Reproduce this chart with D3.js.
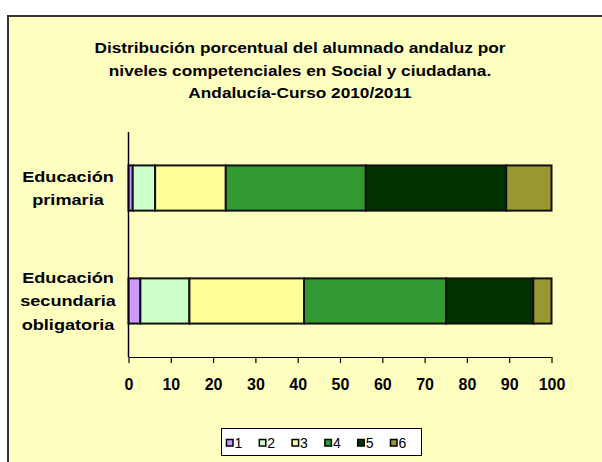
<!DOCTYPE html>
<html>
<head>
<meta charset="utf-8">
<script src="https://cdn.jsdelivr.net/npm/d3@7"></script>
<style>
  html, body { margin: 0; padding: 0; background: #ffffff; }
  svg { display: block; }
  text { font-family: Arial, "Liberation Sans", sans-serif; }
</style>
</head>
<body>
<svg id="chart" width="602" height="462"></svg>
<script>
// Percentage of students per competence level (1..6), by stage
const categories = ["Educación primaria", "Educación secundaria obligatoria"];
const categoryLines = [["Educación", "primaria"], ["Educación", "secundaria", "obligatoria"]];
const levels = ["1", "2", "3", "4", "5", "6"];
const primaria = [1.0, 5.3, 16.7, 33.1, 33.2, 10.7];
const secundaria = [2.8, 11.6, 27.1, 33.6, 20.6, 4.3];
const xTicks = [0, 10, 20, 30, 40, 50, 60, 70, 80, 90, 100];
const titleLines = [
  "Distribución porcentual del alumnado andaluz por",
  "niveles competenciales en Social y ciudadana.",
  "Andalucía-Curso 2010/2011"
];
const colors = ["#CC99FF", "#CCFFCC", "#FFFF99", "#339933", "#003300", "#999933"];

const seriesByCategory = [primaria, secundaria];

const svg = d3.select("#chart");

// Chart area frame
svg.append("rect")
  .attr("x", 8).attr("y", 16)
  .attr("width", 640).attr("height", 500)
  .attr("fill", "#FFFFC0")
  .attr("stroke", "#333333")
  .attr("stroke-width", 2);

// Title (slightly widened glyphs, like the classic office chart rendering)
const titleG = svg.append("g").attr("transform", "translate(300,0) scale(1.15,1)");
titleG.selectAll("text")
  .data(titleLines)
  .join("text")
  .attr("x", 0)
  .attr("y", (d, i) => 53.5 + i * 22.5)
  .attr("text-anchor", "middle")
  .attr("font-size", "15px")
  .attr("font-weight", "bold")
  .attr("fill", "#000")
  .text(d => d);

// Scales
const x = d3.scaleLinear().domain([0, 100]).range([128.5, 551.5]);
const y = d3.scaleBand().domain(categories).range([132, 357]).paddingInner(0.6).paddingOuter(0.296);

// Stack the data
const rows = categories.map((c, i) => {
  const r = { category: c };
  levels.forEach((l, j) => { r[l] = seriesByCategory[i][j]; });
  return r;
});
const stacked = d3.stack().keys(levels)(rows);

const barG = svg.append("g");
stacked.forEach((layer, li) => {
  barG.append("g")
    .attr("fill", colors[li])
    .selectAll("rect")
    .data(layer)
    .join("rect")
    .attr("x", d => x(d[0]))
    .attr("y", d => y(d.data.category))
    .attr("width", d => x(d[1]) - x(d[0]))
    .attr("height", y.bandwidth())
    .attr("stroke", "#111")
    .attr("stroke-width", 2);
});

// Y axis line
svg.append("line")
  .attr("x1", 128.5).attr("x2", 128.5)
  .attr("y1", 132).attr("y2", 357)
  .attr("stroke", "#000").attr("stroke-width", 1.5);

// X axis
const xAxis = d3.axisBottom(x).tickValues(xTicks).tickSize(6).tickSizeOuter(0).tickPadding(16);
const xg = svg.append("g").attr("transform", "translate(0,357)").call(xAxis);
xg.select(".domain").attr("stroke", "#000").attr("stroke-width", 1.2);
xg.selectAll(".tick line").attr("stroke", "#000").attr("stroke-width", 1.2);
xg.selectAll(".tick text")
  .attr("font-size", "16px")
  .attr("font-weight", "bold")
  .attr("font-family", "Arial, 'Liberation Sans', sans-serif")
  .attr("fill", "#000");

// Category labels
categories.forEach((c, i) => {
  const lines = categoryLines[i];
  const cy = y(c) + y.bandwidth() / 2;
  const lh = 23.5;
  const g = svg.append("g").attr("transform", "translate(68,0) scale(1.17,1)");
  const t = g.append("text")
    .attr("text-anchor", "middle")
    .attr("font-size", "15.5px")
    .attr("font-weight", "bold")
    .attr("fill", "#000");
  lines.forEach((ln, k) => {
    t.append("tspan")
      .attr("x", 0)
      .attr("y", cy + (k - (lines.length - 1) / 2) * lh + 5.5)
      .text(ln);
  });
});

// Legend
const lg = svg.append("g");
lg.append("rect")
  .attr("x", 221.5).attr("y", 428.5)
  .attr("width", 200).attr("height", 27)
  .attr("fill", "#fff")
  .attr("stroke", "#000").attr("stroke-width", 1);
levels.forEach((l, i) => {
  const gx = 226.5 + i * 32.8;
  lg.append("rect")
    .attr("x", gx).attr("y", 439.5)
    .attr("width", 6.5).attr("height", 6.5)
    .attr("fill", colors[i])
    .attr("stroke", "#000").attr("stroke-width", 1.5);
  lg.append("text")
    .attr("x", gx + 8).attr("y", 448)
    .attr("font-size", "14px")
    .attr("fill", "#000")
    .text(l);
});
</script>
</body>
</html>
